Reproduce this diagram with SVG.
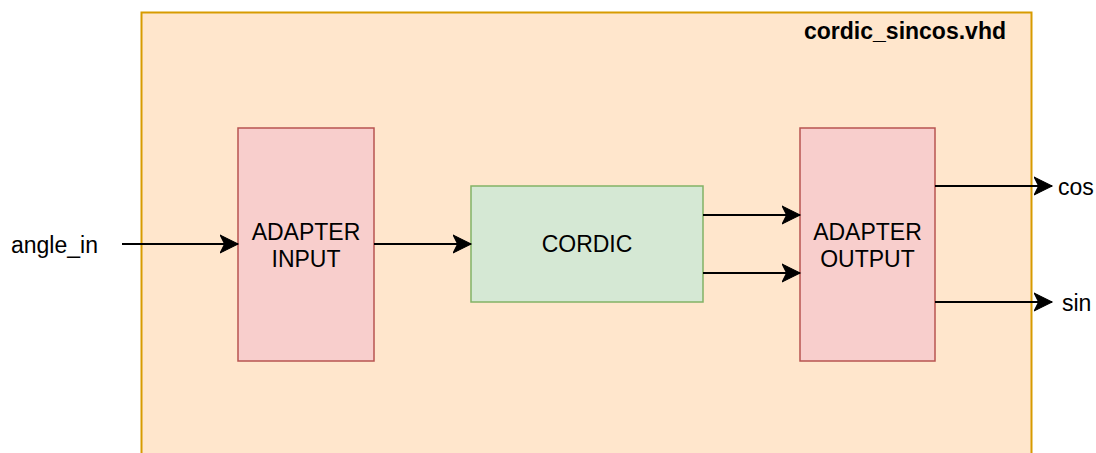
<svg xmlns="http://www.w3.org/2000/svg" width="1096" height="453" viewBox="0 0 1096 453">
  <defs>
    <style>
      .lbl { font-family: "Liberation Sans", Arial, sans-serif; font-size: 23px; fill: #000; }
      .title { font-weight: bold; }
      .adapter { fill: #f8cecc; stroke: #b85450; stroke-width: 1.5; }
      .core { fill: #d5e8d4; stroke: #82b366; stroke-width: 1.5; }
      .wire { fill: none; stroke: #000; stroke-width: 2; }
    </style>
    <marker id="arrow" markerUnits="userSpaceOnUse" markerWidth="20" markerHeight="20" viewBox="-16 -9 17 18" refX="0" refY="0" orient="auto">
      <path d="M0,0 L-16,-8 L-12,0 L-16,8 Z" fill="#000" stroke="#000" stroke-width="1"/>
    </marker>
  </defs>

  <!-- top-level entity container -->
  <g id="cordic_sincos">
    <rect x="141.5" y="12.5" width="890" height="460" fill="#ffe6cc" stroke="#d79b00" stroke-width="2"/>
    <text class="lbl title" x="1006" y="39" text-anchor="end">cordic_sincos.vhd</text>
  </g>

  <g id="adapter_input">
    <rect class="adapter" x="238" y="128" width="136" height="233"/>
    <text class="lbl" x="306" y="240" text-anchor="middle">ADAPTER</text>
    <text class="lbl" x="306" y="267" text-anchor="middle">INPUT</text>
  </g>

  <g id="cordic">
    <rect class="core" x="471" y="186" width="232" height="116"/>
    <text class="lbl" x="587" y="252" text-anchor="middle">CORDIC</text>
  </g>

  <g id="adapter_output">
    <rect class="adapter" x="800" y="128" width="135" height="233"/>
    <text class="lbl" x="867.5" y="240" text-anchor="middle">ADAPTER</text>
    <text class="lbl" x="867.5" y="267" text-anchor="middle">OUTPUT</text>
  </g>

  <!-- port labels -->
  <g id="ports">
    <text class="lbl" x="11" y="253">angle_in</text>
    <text class="lbl" x="1058" y="195">cos</text>
    <text class="lbl" x="1062" y="311">sin</text>
  </g>

  <!-- signal connections -->
  <g id="connectors">
    <line class="wire" x1="122" y1="244" x2="238" y2="244" marker-end="url(#arrow)"/>
    <line class="wire" x1="374" y1="244" x2="471" y2="244" marker-end="url(#arrow)"/>
    <line class="wire" x1="703" y1="215" x2="800" y2="215" marker-end="url(#arrow)"/>
    <line class="wire" x1="703" y1="273" x2="800" y2="273" marker-end="url(#arrow)"/>
    <line class="wire" x1="935" y1="186" x2="1052" y2="186" marker-end="url(#arrow)"/>
    <line class="wire" x1="935" y1="302" x2="1052" y2="302" marker-end="url(#arrow)"/>
  </g>
</svg>
